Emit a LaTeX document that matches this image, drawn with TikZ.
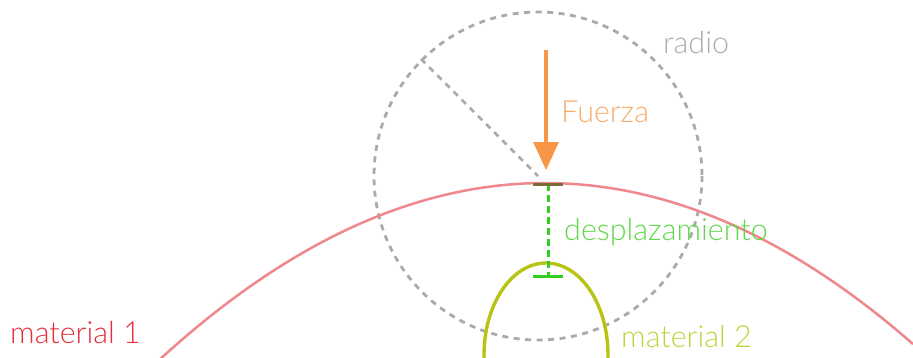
\documentclass[tikz,border=0pt]{standalone}
\usepackage{fontspec}
\setmainfont{Lato Light}
\usetikzlibrary{arrows.meta}
\definecolor{cgray}{RGB}{170,170,170}
\definecolor{tgray}{RGB}{172,172,172}
\definecolor{corange}{RGB}{247,150,70}
\definecolor{torange}{RGB}{249,172,105}
\definecolor{cpink}{RGB}{240,135,140}
\definecolor{tred}{RGB}{230,45,60}
\definecolor{cgreen}{RGB}{50,205,30}
\definecolor{tgreen}{RGB}{95,215,75}
\definecolor{cdark}{RGB}{120,110,55}
\definecolor{cyellow}{RGB}{185,195,20}
\definecolor{tyellow}{RGB}{195,210,60}
\tikzset{
  lbl/.style={anchor=base west, inner sep=0pt, font=\fontsize{30.5}{34}\selectfont},
  graydash/.style={cgray, line width=2.8pt, dash pattern=on 6pt off 5.5pt},
}
\begin{document}
\begin{tikzpicture}[x=1pt,y=-1pt]
\useasboundingbox (0,0) rectangle (913,357);
\clip (0,0) rectangle (913,357);
% dashed circle and radius
\coordinate (O) at (538,176);
\coordinate (R) at (421,59);
\draw[graydash] (O) circle[radius=164];
\draw[graydash] (R) -- (O);
% material 1 surface (parabola)
\draw[cpink, line width=2.5pt, domain=150:913, samples=120]
  plot (\x, {183 + ((\x-545)/29)^2});
% material 2 tip
\draw[cyellow, line width=3.4pt] (546,355) ellipse[x radius=62, y radius=92];
% displacement
\coordinate (D1) at (548,184);
\coordinate (D2) at (548,276);
\draw[cgreen, line width=3pt, dash pattern=on 7pt off 4pt] (D1) -- (D2);
\draw[cdark, line width=3pt] (533,184) -- (563,184);
\draw[cgreen, line width=3pt] (533,276) -- (563,276);
% force
\coordinate (F1) at (546,50);
\coordinate (F2) at (546,170);
\draw[corange, line width=3.2pt, -{Triangle[width=25pt,length=28pt]}] (F1) -- (F2);
% labels
\node[lbl, text=tgray] (radio) at (663,53) {radio};
\node[lbl, text=torange] (fuerza) at (561,122) {Fuerza};
\node[lbl, text=tgreen] (despl) at (564,240) {desplazamiento};
\node[lbl, text=tyellow] (mat2) at (621,347) {material 2};
\node[lbl, text=tred] (mat1) at (10,343) {material 1};
\end{tikzpicture}
\end{document}
